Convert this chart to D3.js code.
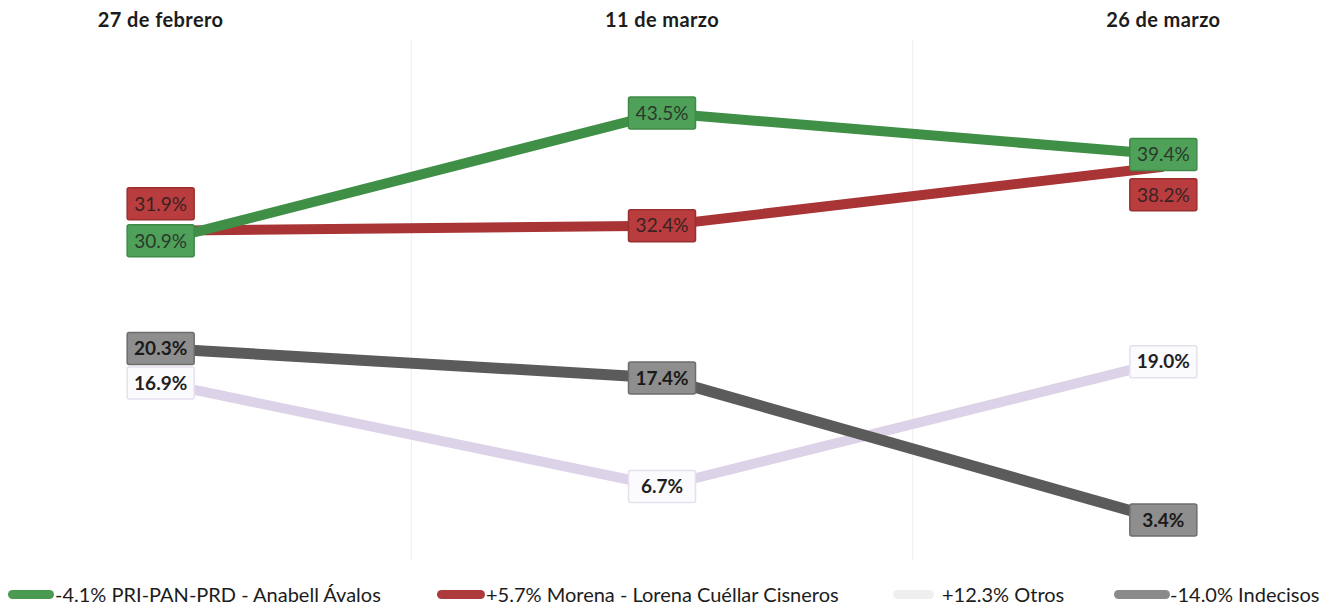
<!DOCTYPE html>
<html>
<head>
<meta charset="utf-8">
<script src="https://cdn.jsdelivr.net/npm/d3@7"></script>
<style>
    html, body { margin: 0; padding: 0; background: #ffffff; }
    svg { display: block; font-family: Lato, "Open Sans", sans-serif; }
</style>
</head>
<body>
<div id="chart"></div>
<script>
const dates = ['27 de febrero', '11 de marzo', '26 de marzo'];

const seriesNames = ['PRI-PAN-PRD', 'Morena', 'Otros', 'Indecisos'];
const legendLabels = [
    '-4.1% PRI-PAN-PRD - Anabell Ávalos',
    '+5.7% Morena - Lorena Cuéllar Cisneros',
    '+12.3% Otros',
    '-14.0% Indecisos'
];
const priValues = [30.9, 43.5, 39.4];
const morenaValues = [31.9, 32.4, 38.2];
const otrosValues = [16.9, 6.7, 19.0];
const indecisosValues = [20.3, 17.4, 3.4];

// label nudges where two boxes would sit on top of each other
const labelShift = {
    'Morena': [-27, 0, 28]
};

const styles = {
    'PRI-PAN-PRD': { line: '#3f8f47', swatch: '#4a9a52', box: '#4fa058', border: '#3f8a47', text: '#2a3a2c', width: 10, weight: 400 },
    'Morena': { line: '#a93436', swatch: '#ad3a3c', box: '#b93d3e', border: '#9a2f31', text: '#3a2222', width: 10, weight: 400 },
    'Otros': { line: '#ddd3e8', swatch: '#efefef', box: '#fbfafc', border: '#e6e0ee', text: '#1f1f1f', width: 10, weight: 700 },
    'Indecisos': { line: '#5b5b5b', swatch: '#8a8a8a', box: '#8e8e8e', border: '#6d6d6d', text: '#1a1a1a', width: 11, weight: 700 }
};

const width = 1325;
const height = 609;

const series = [
    { name: seriesNames[0], values: priValues },
    { name: seriesNames[1], values: morenaValues },
    { name: seriesNames[2], values: otrosValues },
    { name: seriesNames[3], values: indecisosValues }
];
// draw order: light line first, dark ones on top
const drawOrder = ['Otros', 'Indecisos', 'Morena', 'PRI-PAN-PRD'];

const svg = d3.select('#chart').append('svg')
    .attr('width', width)
    .attr('height', height);

const xScale = d3.scaleBand()
    .domain(dates)
    .range([-90, 1414]);

const yScale = d3.scaleLinear()
    .domain([0, 45])
    .range([554.5, 97.75]);

const xCenter = (date) => xScale(date) + xScale.bandwidth() / 2;

// faint separators between the dates
svg.append('g')
    .selectAll('line')
    .data(dates.slice(1))
    .enter()
    .append('line')
    .attr('x1', (date) => xScale(date))
    .attr('x2', (date) => xScale(date))
    .attr('y1', 40)
    .attr('y2', 560)
    .attr('stroke', '#efefef')
    .attr('stroke-width', 1);

svg.append('g')
    .selectAll('text')
    .data(dates)
    .enter()
    .append('text')
    .attr('x', xCenter)
    .attr('y', 27)
    .attr('text-anchor', 'middle')
    .attr('font-size', 20)
    .attr('font-weight', 700)
    .attr('letter-spacing', 0.4)
    .attr('fill', '#1c1c1c')
    .text((date) => date);

const line = d3.line()
    .x((datum) => xCenter(datum.date))
    .y((datum) => yScale(datum.value));

const ordered = drawOrder.map((name) => series.find((item) => item.name === name));

svg.append('g')
    .selectAll('path')
    .data(ordered)
    .enter()
    .append('path')
    .attr('d', (item) => line(item.values.map((value, index) => ({ date: dates[index], value }))))
    .attr('fill', 'none')
    .attr('stroke', (item) => styles[item.name].line)
    .attr('stroke-width', (item) => styles[item.name].width)
    .attr('stroke-linejoin', 'round');

const labels = [];
ordered.forEach((item) => {
    item.values.forEach((value, index) => {
        const shift = labelShift[item.name] ? labelShift[item.name][index] : 0;
        labels.push({ name: item.name, date: dates[index], value, shift });
    });
});

const boxWidth = 67;
const boxHeight = 32;

const labelGroups = svg.append('g')
    .selectAll('g')
    .data(labels)
    .enter()
    .append('g')
    .attr('transform', (datum) => `translate(${xCenter(datum.date)},${yScale(datum.value) + datum.shift})`);

labelGroups.append('rect')
    .attr('x', -boxWidth / 2)
    .attr('y', -boxHeight / 2)
    .attr('width', boxWidth)
    .attr('height', boxHeight)
    .attr('rx', 2)
    .attr('fill', (datum) => styles[datum.name].box)
    .attr('stroke', (datum) => styles[datum.name].border)
    .attr('stroke-width', 1.5);

labelGroups.append('text')
    .attr('text-anchor', 'middle')
    .attr('dy', '0.36em')
    .attr('font-size', 19)
    .attr('font-weight', (datum) => styles[datum.name].weight)
    .attr('fill', (datum) => styles[datum.name].text)
    .text((datum) => `${datum.value.toFixed(1)}%`);

// legend
const legendX = [8, 437, 893, 1114];
const swatchWidth = [46, 48, 41, 56];
const textGap = [1, 1, 8, 0];

const legendItems = svg.append('g')
    .selectAll('g')
    .data(series)
    .enter()
    .append('g')
    .attr('transform', (item, index) => `translate(${legendX[index]},595)`);

legendItems.append('rect')
    .attr('x', 0)
    .attr('y', -5)
    .attr('width', (item, index) => swatchWidth[index])
    .attr('height', 9)
    .attr('rx', 4.5)
    .attr('fill', (item) => styles[item.name].swatch);

legendItems.append('text')
    .attr('x', (item, index) => swatchWidth[index] + textGap[index])
    .attr('dy', '0.35em')
    .attr('font-size', 20)
    .attr('fill', '#1c1c1c')
    .text((item, index) => legendLabels[index]);
</script>
</body>
</html>
